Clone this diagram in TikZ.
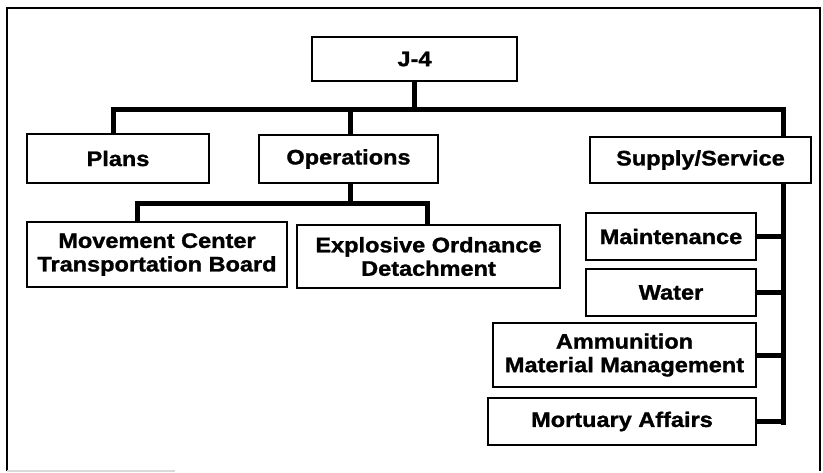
\documentclass[tikz,border=0pt]{standalone}
\usepackage{fontspec}
\setmainfont[FakeStretch=1.12, BoldFeatures={FakeBold=1.3}]{Liberation Sans}
\begin{document}
\begin{tikzpicture}[x=1pt,y=-1pt,
  box/.style={draw=black, line width=2.8pt, fill=white, inner sep=0pt, align=center,
    font=\fontsize{21}{23.5}\selectfont\bfseries},
  conn/.style={draw=black, line width=5pt, line join=miter, line cap=rect},
  frame/.style={draw=black, line width=2.6pt}]
\useasboundingbox (0,0) rectangle (823,472);
% outer frame
\draw[frame] (7,471) -- (7,8) -- (820,8) -- (820,471);
\draw[black!15, line width=1.5pt] (7,471) -- (175,471);
% helper coordinates
\coordinate (busy) at (0,109);
\coordinate (suby) at (0,203);
\coordinate (trunktop) at (783,109);
\coordinate (trunkbot) at (783,422);
% connectors (drawn below boxes)
\draw[conn] (414.5,70) -- (414.5 ,109);
\draw[conn] (113,140) -- (113,109) -- (trunktop) -- (trunkbot);
\draw[conn] (350,109) -- (350,140);
\draw[conn] (350,170) -- (350,203);
\draw[conn] (137,230) -- (137,203) -- (427,203) -- (427,230);
% boxes
\node[box, minimum width=205pt, minimum height=44pt] (j4) at (414.5,59) {J-4};
\node[box, minimum width=182pt, minimum height=49pt] (plans) at (118,158.5) {Plans};
\node[box, minimum width=179pt, minimum height=48pt] (ops) at (348.5,159) {Operations};
\node[box, minimum width=221pt, minimum height=46pt] (supply) at (700.5,160) {Supply/Service};
\node[box, minimum width=260pt, minimum height=65pt] (move) at (157,254.5) {Movement Center\\Transportation Board};
\node[box, minimum width=263pt, minimum height=63pt] (eod) at (428.5,256.5) {Explosive Ordnance\\Detachment};
\node[box, minimum width=170pt, minimum height=47pt] (maint) at (671,236.5) {Maintenance};
\node[box, minimum width=170pt, minimum height=47pt] (water) at (671,292.5) {Water};
\node[box, minimum width=263pt, minimum height=64pt] (ammo) at (624.5,355) {Ammunition\\Material Management};
\node[box, minimum width=268pt, minimum height=47pt] (mort) at (622,421.5) {Mortuary Affairs};
% side connectors to trunk
\draw[conn] (maint.east) -- (maint.east -| trunkbot);
\draw[conn] (water.east) -- (water.east -| trunkbot);
\draw[conn] (ammo.east) -- (ammo.east -| trunkbot);
\draw[conn] (mort.east) -- (mort.east -| trunkbot);
\end{tikzpicture}
\end{document}
